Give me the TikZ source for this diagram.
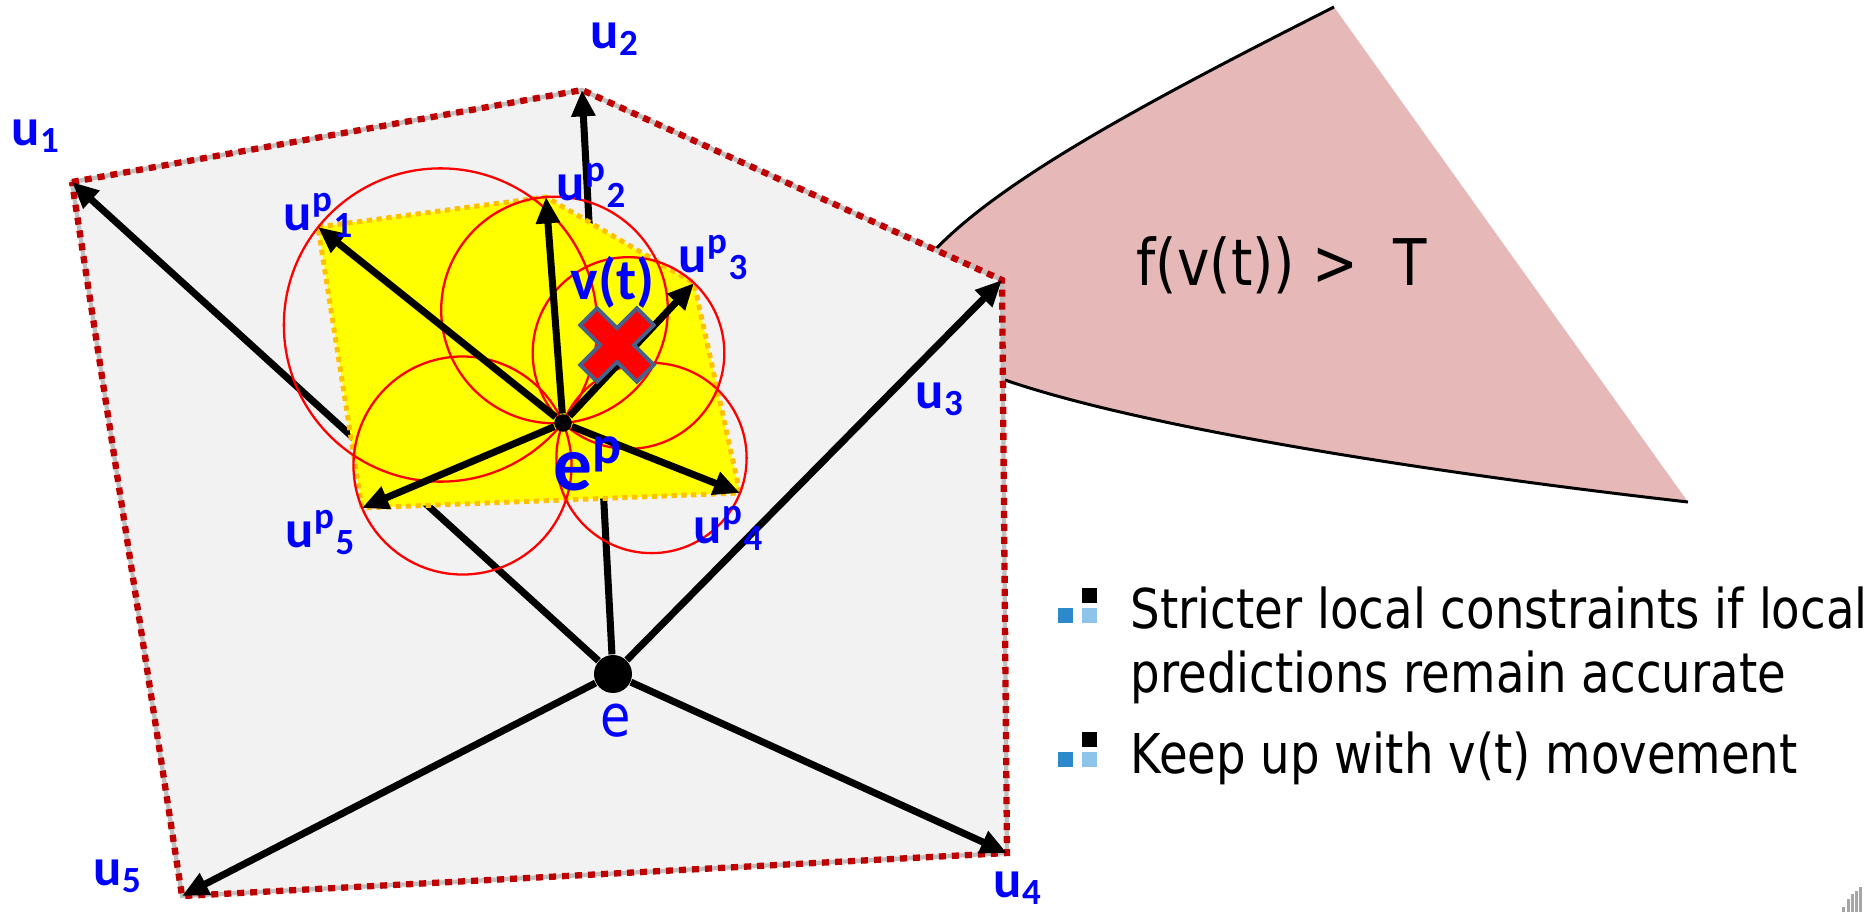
\documentclass[tikz,border=0pt]{standalone}
\usepackage{fontspec}
\setmainfont{DejaVu Sans}[FakeStretch=0.85]
\newfontfamily\calfont{Carlito}
\usetikzlibrary{arrows.meta,calc}
\definecolor{rimred}{HTML}{C00000}
\definecolor{areagray}{HTML}{F2F2F2}
\definecolor{zoneyel}{HTML}{FFFF00}
\definecolor{zoneorange}{HTML}{FFC000}
\definecolor{alarmpink}{HTML}{E6B9B8}
\definecolor{crossedge}{HTML}{46618A}
\definecolor{bulletblue}{HTML}{2E88CC}
\definecolor{bulletlight}{HTML}{8EC4EA}
\newcommand{\probecircle}[1]{%
  \draw[probe] let \p1=($(#1)-(ep)$), \n1={veclen(\x1,\y1)/2} in ($(ep)!0.5!(#1)$) circle (\n1);}
\newcommand{\bulletmark}[2]{%
  \fill[black] (#1+24,#2) rectangle ++(15,15);
  \fill[bulletblue] (#1,#2+20) rectangle ++(15,15);
  \fill[bulletlight] (#1+24,#2+20) rectangle ++(15,15);}

\begin{document}
\begin{tikzpicture}[x=0.01cm, y=-0.01cm,
    vec/.style={line width=2pt, -{Triangle[length=7.5pt,width=6.5pt]}},
    probe/.style={red, line width=0.65pt},
    lbl/.style={text=blue, font=\calfont\bfseries\fontsize{15}{18}\selectfont, inner sep=0pt, anchor=base west},
    txt/.style={font=\fontsize{15.6}{18}\selectfont, inner sep=0pt, anchor=base west}]
      \useasboundingbox (0,0) rectangle (1876,912);
      \coordinate (u1) at (72,182);
      \coordinate (u2) at (582,90);
      \coordinate (u3) at (1002,280);
      \coordinate (u4) at (1007,853);
      \coordinate (u5) at (182,896);
      \coordinate (ptop) at (1334,7);
      \coordinate (ptip) at (1688,502);
      \coordinate (pin1) at (933,252);
      \coordinate (pin2) at (1005,380);
      \fill[alarmpink] (pin1) .. controls (1000,180) and (1150,100) .. (ptop) -- (ptip)
        .. controls (1450,475) and (1150,430) .. (pin2) -- (u3) -- cycle;
      \draw[line width=0.85pt] (pin1) .. controls (1000,180) and (1150,100) .. (ptop);
      \draw[line width=0.85pt] (pin2) .. controls (1150,430) and (1450,475) .. (ptip);
      \filldraw[fill=areagray, draw=black!25, line width=1.2pt] (u1) -- (u2) -- (u3) -- (u4) -- (u5) -- cycle;
      \draw[rimred, line width=1.8pt, dash pattern=on 2pt off 1.7pt] (u1) -- (u2) -- (u3) -- (u4) -- (u5) -- cycle;
      \node[circle, fill=black, minimum size=10.8pt, inner sep=0pt] (e) at (613,674) {};
      \foreach \k in {1,...,5} \draw[vec] (e) -- (u\k);
      \coordinate (up1) at (318,227);
      \coordinate (up2) at (546,197);
      \coordinate (up3) at (694,283);
      \coordinate (up4) at (740,493);
      \coordinate (up5) at (362,508);
      \filldraw[fill=zoneyel, draw=zoneorange, line width=1.4pt, dash pattern=on 1.5pt off 1.3pt]
        (up1) -- (up2) -- (up3) -- (up4) -- (up5) -- cycle;
      \coordinate (ep) at (563,423);
      \foreach \k in {1,...,5} {\probecircle{up\k}}
      \node[circle, fill=black, minimum size=5pt, inner sep=0pt] (epdot) at (ep) {};
      \foreach \k in {1,...,5} \draw[vec] (epdot) -- (up\k);
      \begin{scope}[shift={(617,345)}, rotate=45]
        \filldraw[fill=red, draw=crossedge, line width=1.1pt] (12,12) -- (12,40) -- (-12,40) -- (-12,12)
          -- (-40,12) -- (-40,-12) -- (-12,-12) -- (-12,-40) -- (12,-40) -- (12,-12) -- (40,-12) -- (40,12) -- cycle;
      \end{scope}
      \node[lbl] (lu1) at (11,145) {u\textsubscript{1}};
      \node[lbl] (lu2) at (590,48) {u\textsubscript{2}};
      \node[lbl] (lu3) at (915,408) {u\textsubscript{3}};
      \node[lbl] (lu4) at (993,897) {u\textsubscript{4}};
      \node[lbl] (lu5) at (93,885) {u\textsubscript{5}};
      \node[lbl] (lup1) at (283,230) {u\textsuperscript{p}\textsubscript{1}};
      \node[lbl] (lup2) at (556,200) {u\textsuperscript{p}\textsubscript{2}};
      \node[lbl] (lup3) at (678,272) {u\textsuperscript{p}\textsubscript{3}};
      \node[lbl] (lup4) at (693,543) {u\textsuperscript{p}\textsubscript{4}};
      \node[lbl] (lup5) at (285,547) {u\textsuperscript{p}\textsubscript{5}};
      \node[lbl, font=\calfont\bfseries\fontsize{16.5}{20}\selectfont] (lvt) at (570,299) {v(t)};
      \node[lbl, font=\calfont\bfseries\fontsize{22}{26}\selectfont] (lep) at (553,490) {e\textsuperscript{p}};
      \node[txt, text=blue, font=\fontsize{16.5}{20}\selectfont] (le) at (600,736) {e};
      \node[txt, font=\fontsize{18.3}{22}\selectfont] (alarm) at (1136,285) {f(v(t)) >\ \ T};
      \bulletmark{1058}{588}
      \bulletmark{1058}{732}
      \node[txt] (item1) at (1130,628) {Stricter local constraints if local};
      \node[txt] (item1b) at (1130,692) {predictions remain accurate};
      \node[txt] (item2) at (1130,773) {Keep up with v(t) movement};
      \foreach \bx/\by in {1842/907, 1847/899, 1851/894, 1855/891, 1859/887}
        \fill[gray!70] (\bx,\by) rectangle (\bx+3,912);
    \end{tikzpicture}
\end{document}
